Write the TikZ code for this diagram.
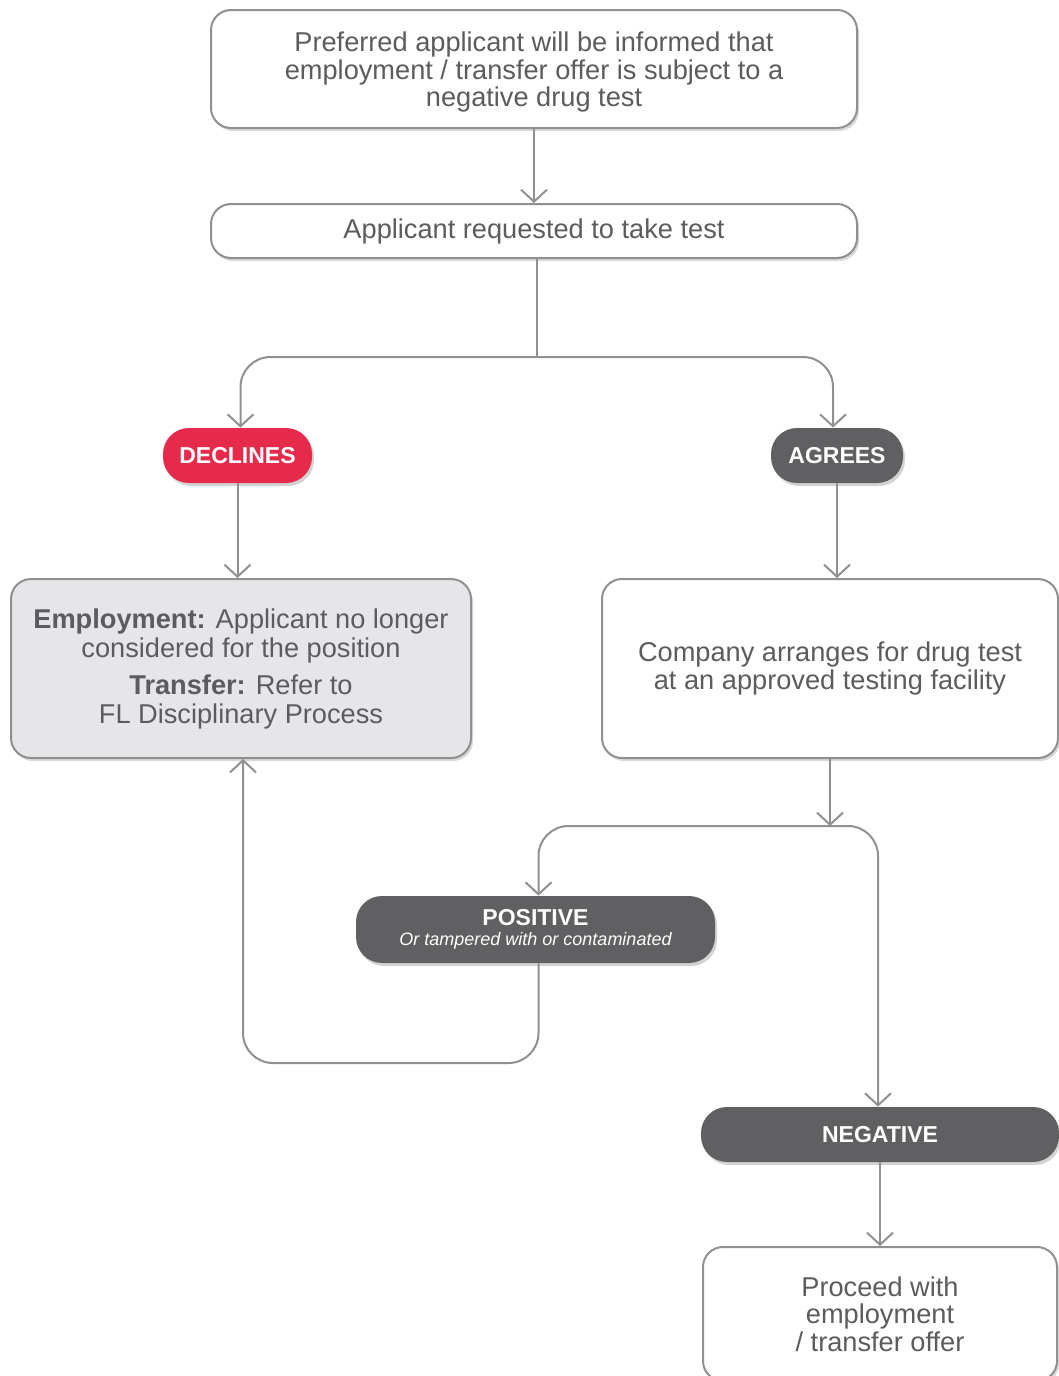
\documentclass[tikz,border=0pt]{standalone}
\usepackage{fontspec}
\setmainfont{Liberation Sans}
\usetikzlibrary{positioning,arrows.meta,shadows}
\definecolor{txtgray}{HTML}{5C5C5E}
\definecolor{linegray}{HTML}{909092}
\definecolor{declred}{HTML}{E62A4B}
\definecolor{pilldark}{HTML}{606062}
\definecolor{boxfill}{HTML}{E6E6E8}

\begin{document}
\begin{tikzpicture}[
    x=0.5pt, y=-0.5pt, >={Straight Barb[length=6pt,width=13pt]},
    font=\fontsize{13.6}{13.8}\selectfont,
    box/.style={draw=linegray, line width=1pt, rounded corners=10pt, fill=white, text=txtgray, align=center, inner sep=0pt,
      drop shadow={opacity=0.3, shadow xshift=1pt, shadow yshift=-1.5pt}},
    pill/.style={rounded corners=13pt, fill=pilldark, text=white, align=center, inner sep=0pt, minimum height=27.5pt,
      font=\fontsize{11.5}{12}\selectfont\bfseries, drop shadow={opacity=0.35, shadow xshift=1pt, shadow yshift=-1.5pt}},
    link/.style={draw=linegray, line width=1pt, rounded corners=15pt}]
  \path[use as bounding box, clip] (0,0) rectangle (1059,1376);
  \node[box, minimum width=323pt, minimum height=59pt] (inform) at (534,69)
    {\rule{0pt}{13pt}Preferred applicant will be informed that\\ employment / transfer offer is subject to a\\ negative drug test};
  \node[box, minimum width=323pt, minimum height=27pt] (request) at (534,231) {Applicant requested to take test};
  \node[pill, fill=declred, minimum width=74.5pt] (declines) at (237.5,455.5) {DECLINES};
  \node[pill, minimum width=66pt] (agrees) at (837,455.5) {AGREES};
  \node[box, fill=boxfill, minimum width=230pt, minimum height=89.5pt, font=\fontsize{13.6}{14.5}\selectfont] (rejected) at (241,668.5)
    {\textbf{Employment:} Applicant no longer\\ considered for the position\\[4pt]
     \textbf{Transfer:} Refer to\\ FL Disciplinary Process};
  \node[box, minimum width=228pt, minimum height=89.5pt] (arrange) at (830,668.5)
    {Company arranges for drug test\\ at an approved testing facility};
  \node[pill, minimum width=179.5pt, minimum height=33.5pt] (positive) at (535.5,929.5)
    {POSITIVE\\[-2pt] {\fontsize{9}{9}\selectfont\mdseries\itshape Or tampered with or contaminated}};
  \node[pill, minimum width=179pt] (negative) at (880,1134.5) {NEGATIVE};
  \node[box, minimum width=177pt, minimum height=67pt] (proceed) at (880,1314)
    {Proceed with\\ employment\\ / transfer offer};
  \coordinate (split) at (537,357);
  \coordinate (result) at (830,826);
  \coordinate (back) at (243,1063);
  \draw[link, ->] (inform) -- (request);
  \draw[link] (request.south -| split) -- (split);
  \draw[link, ->] (split) -| ([xshift=1.5pt]declines.north);
  \draw[link, ->] (split) -| ([xshift=-2pt]agrees.north);
  \draw[link, ->] (declines) -- (declines |- rejected.north);
  \draw[link, ->] (agrees) -- (agrees |- arrange.north);
  \draw[link, ->] (arrange.south -| result) -- (result);
  \draw[link, ->] (result) -| ([xshift=1.5pt]positive.north);
  \draw[link, ->] (result) -| ([xshift=-1pt]negative.north);
  \draw[link, ->] ([xshift=1.5pt]positive.south) |- (back) -- (back |- rejected.south);
  \draw[link, ->] (negative) -- (proceed);
\end{tikzpicture}
\end{document}
